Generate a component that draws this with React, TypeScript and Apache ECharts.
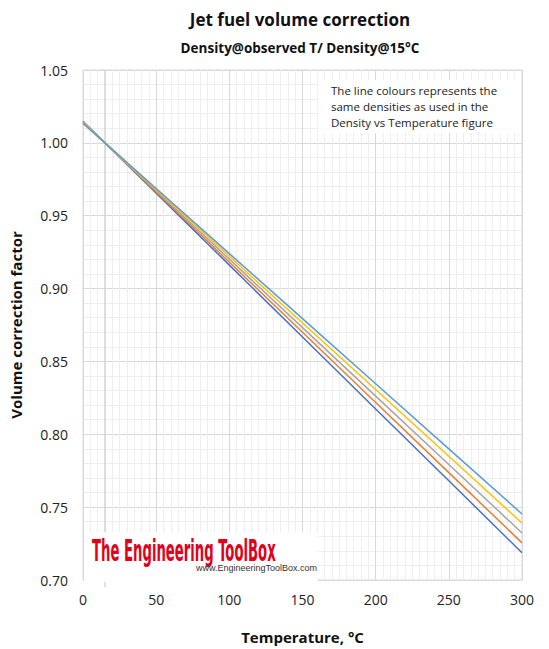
import React, { useEffect, useRef } from "react";
import * as echarts from "echarts";

const temperatures = [0, 15, 50, 100, 150, 200, 250, 300];
const vcfLightBlue = [1.0134, 1.0, 0.9687, 0.924, 0.8794, 0.8347, 0.79, 0.7453];
const vcfYellow = [1.0137, 1.0, 0.968, 0.9222, 0.8764, 0.8307, 0.7849, 0.7391];
const vcfGray = [1.0141, 1.0, 0.9671, 0.9202, 0.8732, 0.8262, 0.7793, 0.7323];
const vcfOrange = [1.0144, 1.0, 0.9663, 0.9181, 0.87, 0.8218, 0.7737, 0.7255];
const vcfDarkBlue = [1.0148, 1.0, 0.9655, 0.9161, 0.8668, 0.8174, 0.7681, 0.7187];

const referenceTemp = 15;
const referenceLineY = [0.695, 1.05];

const seriesDefs = [
  { name: "dark blue", values: vcfDarkBlue, color: "#4472C4" },
  { name: "orange", values: vcfOrange, color: "#ED7D31" },
  { name: "gray", values: vcfGray, color: "#A5A5A5" },
  { name: "yellow", values: vcfYellow, color: "#FFC000" },
  { name: "light blue", values: vcfLightBlue, color: "#5B9BD5" },
];

const noteLines = [
  "The line colours represents the",
  "same densities as used in the",
  "Density vs Temperature figure",
];

const FONT = "'Open Sans', 'Noto Sans', sans-serif";

export default function App() {
  const ref = useRef<HTMLDivElement>(null);
  useEffect(() => {
    if (!ref.current) return;
    const chart = echarts.init(ref.current, undefined, { renderer: "svg" });
    const series: any[] = [
      {
        type: "line",
        name: "15 °C",
        data: referenceLineY.map((v) => [referenceTemp, v]),
        showSymbol: false,
        symbol: "none",
        clip: false,
        silent: true,
        lineStyle: { color: "#C4C4C4", width: 1 },
        z: 2,
      },
      ...seriesDefs.map((s) => ({
        type: "line",
        name: s.name,
        data: temperatures.map((t, k) => [t, s.values[k]]),
        showSymbol: false,
        symbol: "none",
        lineStyle: { color: s.color, width: 1.5 },
        z: 5,
      })),
    ];
    const graphic: any[] = [
      {
        type: "text",
        x: 300,
        y: 19,
        style: {
          text: "Jet fuel volume correction",
          font: `bold 17px ${FONT}`,
          fill: "#111",
          textAlign: "center",
          textVerticalAlign: "middle",
        },
      },
      {
        type: "text",
        x: 300,
        y: 48,
        style: {
          text: "Density@observed T/ Density@15°C",
          font: `bold 13.5px ${FONT}`,
          fill: "#111",
          textAlign: "center",
          textVerticalAlign: "middle",
        },
      },
      {
        type: "rect",
        shape: { x: 318, y: 80, width: 203, height: 53 },
        style: { fill: "#fff" },
        z: 10,
      },
      ...noteLines.map((t, i) => ({
        type: "text",
        x: 331,
        y: 90 + i * 16.3,
        z: 11,
        style: {
          text: t,
          font: `11.5px ${FONT}`,
          fill: "#222",
          textAlign: "left",
          textVerticalAlign: "middle",
        },
      })),
      {
        type: "rect",
        shape: { x: 84, y: 532, width: 234, height: 50 },
        style: { fill: "#fff" },
        z: 10,
      },
      {
        type: "text",
        x: 92,
        y: 551,
        scaleX: 0.49,
        z: 11,
        style: {
          text: "The Engineering ToolBox",
          font: `bold 30px 'Liberation Sans Narrow', 'DejaVu Sans Condensed', sans-serif`,
          fill: "#E2001A",
          textAlign: "left",
          textVerticalAlign: "middle",
        },
      },
      {
        type: "text",
        x: 317,
        y: 568,
        z: 11,
        style: {
          text: "www.EngineeringToolBox.com",
          font: `9px 'Liberation Sans', Arial, sans-serif`,
          fill: "#333",
          textAlign: "right",
          textVerticalAlign: "middle",
        },
      },
    ];
    chart.setOption({
      animation: false,
      backgroundColor: "#fff",
      grid: {
        left: 83,
        right: 27,
        top: 70,
        bottom: 66,
        show: true,
        borderColor: "#D9D9D9",
        borderWidth: 1,
        containLabel: false,
      },
      xAxis: {
        type: "value",
        min: 0,
        max: 300,
        interval: 50,
        name: "Temperature, °C",
        nameLocation: "middle",
        nameGap: 49,
        nameTextStyle: { fontFamily: FONT, fontWeight: "bold", fontSize: 15, color: "#111" },
        axisLine: { show: false },
        axisTick: { show: false },
        axisLabel: { fontFamily: FONT, fontSize: 14, color: "#222", margin: 12 },
        splitLine: { show: true, lineStyle: { color: "#D9D9D9", width: 1 } },
        minorTick: { show: false, splitNumber: 10 },
        minorSplitLine: { show: true, lineStyle: { color: "#EEEEEE", width: 1 } },
      },
      yAxis: {
        type: "value",
        min: 0.7,
        max: 1.05,
        interval: 0.05,
        name: "Volume correction factor",
        nameLocation: "middle",
        nameGap: 60,
        nameTextStyle: { fontFamily: FONT, fontWeight: "bold", fontSize: 15, color: "#111" },
        axisLine: { show: false },
        axisTick: { show: false },
        axisLabel: {
          fontFamily: FONT,
          fontSize: 14,
          color: "#222",
          margin: 15,
          formatter: (v: number) => v.toFixed(2),
        },
        splitLine: { show: true, lineStyle: { color: "#D9D9D9", width: 1 } },
        minorTick: { show: false, splitNumber: 5 },
        minorSplitLine: { show: true, lineStyle: { color: "#EEEEEE", width: 1 } },
      },
      series,
      graphic,
    });
    return () => chart.dispose();
  }, []);
  return (
    <div
      ref={ref}
      style={{ position: "fixed", left: 0, top: 0, width: 549, height: 649 }}
    />
  );
}
